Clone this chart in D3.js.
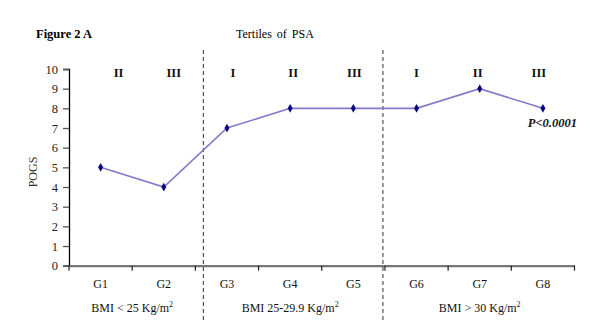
<!DOCTYPE html>
<html><head><meta charset="utf-8">
<script src="https://cdn.jsdelivr.net/npm/d3@7"></script>
<style>body{margin:0;background:#fff}svg{display:block}text{font-family:"Liberation Serif","Times New Roman",serif}</style>
</head><body><svg id="c" width="600" height="336"></svg>
<script>
const categories = ["G1","G2","G3","G4","G5","G6","G7","G8"];
const pogs = [5,4,7,8,8,8,9,8];
const tertiles = ["II","III","I","II","III","I","II","III"];
const yTicks = [0,1,2,3,4,5,6,7,8,9,10];
const groups = [
  {label:"BMI < 25 Kg/m", from:0, to:1},
  {label:"BMI 25-29.9 Kg/m", from:2, to:4},
  {label:"BMI > 30 Kg/m", from:5, to:7}
];

const svg = d3.select("#c");
const x = d3.scaleBand().domain(categories).range([69, 574.5]);
const y = d3.scaleLinear().domain([0,10]).range([265.7, 69]);

// titles
svg.append("text").attr("x",36).attr("y",38).attr("font-size",12.5).attr("font-weight","bold").attr("fill","#000").text("Figure 2 A");
svg.append("text").attr("x",236).attr("y",38).attr("font-size",12).attr("fill","#000").attr("word-spacing","2px").text("Tertiles of PSA");

// y axis
const ya = svg.append("g").attr("transform","translate(69,0)")
  .call(d3.axisLeft(y).tickValues(yTicks).tickSize(6).tickPadding(5).tickFormat(d3.format("d")));
ya.select(".domain").attr("stroke","#000").attr("stroke-width",1.3);
ya.selectAll(".tick line").attr("stroke","#555").attr("stroke-width",1.3);
ya.selectAll(".tick text").attr("font-size",12.5).attr("fill","#222").attr("font-family",'"Liberation Serif",serif');

// x axis
const xa = svg.append("g").attr("transform","translate(0,"+y(0)+")")
  .call(d3.axisBottom(x).tickSize(0).tickFormat(""));
xa.select(".domain").attr("stroke","#777").attr("stroke-width",2.2);
const bounds = categories.map(c=>x(c)).concat([x.range()[1]]);
svg.append("g").selectAll("line").data(bounds).join("line")
  .attr("x1",d=>d).attr("x2",d=>d).attr("y1",y(0)).attr("y2",y(0)+5)
  .attr("stroke","#222").attr("stroke-width",1.2);
svg.append("g").selectAll("text").data(categories).join("text")
  .attr("x",d=>x(d)+x.bandwidth()/2).attr("y",288).attr("text-anchor","middle")
  .attr("font-size",12).attr("fill","#111").text(d=>d);

// group labels
const gl = svg.append("g").selectAll("text").data(groups).join("text")
  .attr("x",d=>(x(categories[d.from])+x(categories[d.to])+x.bandwidth())/2 + (d.from===0?0:0))
  .attr("y",312).attr("text-anchor","middle").attr("font-size",12).attr("fill","#111");
gl.text(d=>d.label).append("tspan").attr("dy",-5).attr("font-size",8).text("2");

// dashed separators
const seps = [x("G3")+8, x("G6")-2];
svg.append("g").selectAll("line").data(seps).join("line")
  .attr("x1",d=>d).attr("x2",d=>d).attr("y1",50).attr("y2",321)
  .attr("stroke","#444").attr("stroke-width",1.1).attr("stroke-dasharray","4,3");

// tertile labels
const tOff = [18,10,6,3,1,0,-2,-4];
svg.append("g").selectAll("text").data(tertiles).join("text")
  .attr("x",(d,i)=>x(categories[i])+x.bandwidth()/2+tOff[i]).attr("y",77)
  .attr("text-anchor","middle").attr("font-size",12.5).attr("font-weight","bold").attr("fill","#111").text(d=>d);

// y label
svg.append("text").attr("transform","translate(37,172) rotate(-90)").attr("text-anchor","middle")
  .attr("font-size",12).attr("fill","#333").text("POGS");

// line
const line = d3.line().x((d,i)=>x(categories[i])+x.bandwidth()/2).y(d=>y(d));
svg.append("path").datum(pogs).attr("d",line).attr("fill","none").attr("stroke","#8478c8").attr("stroke-width",1.6);
svg.append("g").selectAll("path").data(pogs).join("path")
  .attr("d",d3.symbol(d3.symbolDiamond,22))
  .attr("transform",(d,i)=>"translate("+(x(categories[i])+x.bandwidth()/2)+","+y(d)+")")
  .attr("fill","#0a0a80");

// p-value
svg.append("text").attr("x",577).attr("y",127).attr("text-anchor","end").attr("font-size",12.5)
  .attr("font-weight","bold").attr("font-style","italic").attr("fill","#111").text("P<0.0001");
</script></body></html>
